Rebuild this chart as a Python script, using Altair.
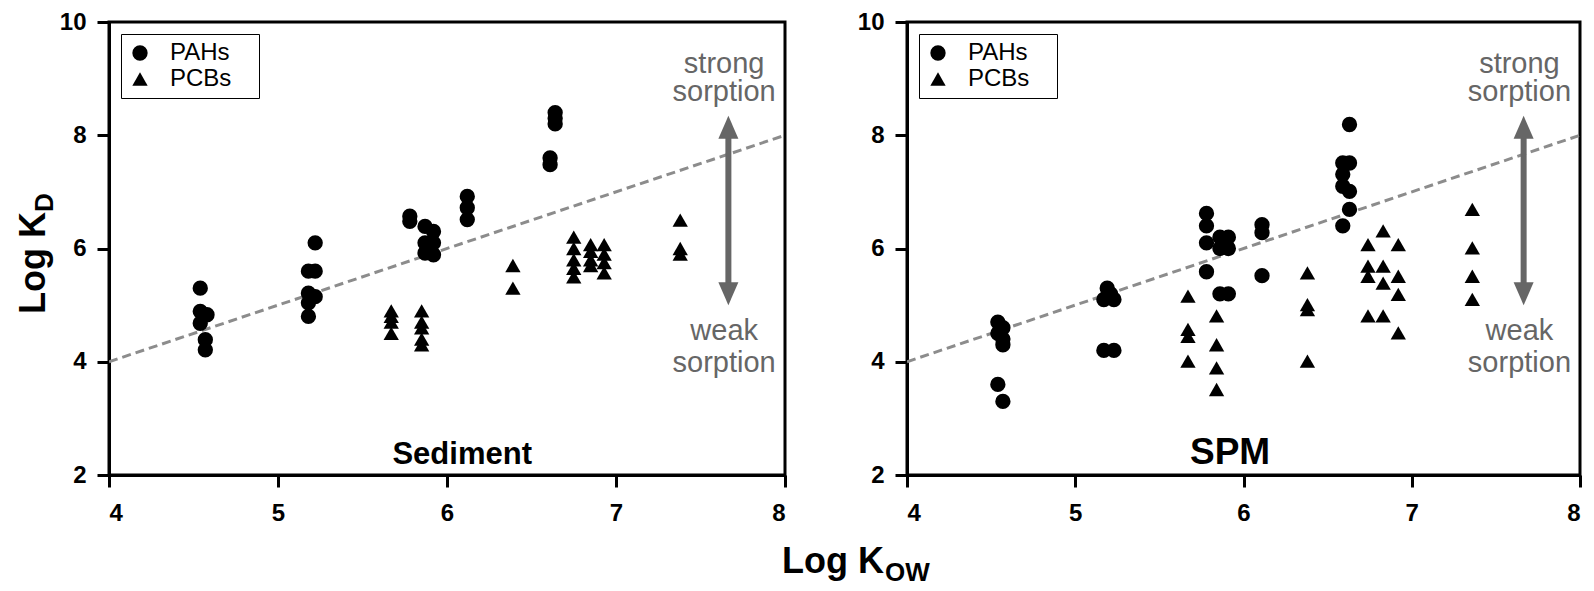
import altair as alt
import pandas as pd

FONT = "Liberation Sans"

# ---------------- data ----------------
x_ticks = [4, 5, 6, 7, 8]
y_ticks = [2, 4, 6, 8, 10]

# Sediment panel
sed_pah_kow = [4.54, 4.54, 4.58, 4.54, 4.57, 4.57,
               5.22, 5.18, 5.22, 5.18, 5.22, 5.18, 5.18,
               5.78, 5.78, 5.87, 5.92, 5.87, 5.92, 5.87, 5.92,
               6.12, 6.12, 6.12,
               6.64, 6.64, 6.64, 6.61, 6.61]
sed_pah_kd = [5.30, 4.89, 4.83, 4.68, 4.39, 4.21,
              6.10, 5.60, 5.60, 5.21, 5.15, 5.04, 4.80,
              6.57, 6.48, 6.39, 6.30, 6.10, 6.10, 5.92, 5.89,
              6.92, 6.72, 6.51,
              8.40, 8.30, 8.20, 7.60, 7.48]
sed_pcb_kow = [5.67, 5.67, 5.67, 5.67,
               5.85, 5.85, 5.85, 5.85, 5.85,
               6.39, 6.39,
               6.75, 6.75, 6.75, 6.75, 6.75,
               6.85, 6.85, 6.85, 6.85,
               6.93, 6.93, 6.93, 6.93,
               7.38, 7.38, 7.38]
sed_pcb_kd = [4.90, 4.80, 4.70, 4.50,
              4.90, 4.70, 4.60, 4.40, 4.30,
              5.70, 5.30,
              6.20, 6.00, 5.80, 5.65, 5.50,
              6.07, 5.95, 5.80, 5.70,
              6.07, 5.90, 5.75, 5.57,
              6.50, 6.00, 5.90]

# SPM panel
spm_pah_kow = [4.54, 4.57, 4.54, 4.57, 4.57, 4.54, 4.57,
               5.19, 5.21, 5.19, 5.23, 5.17, 5.17, 5.23,
               5.78, 5.78, 5.78, 5.78, 5.86, 5.86, 5.86, 5.91, 5.91, 5.91,
               6.11, 6.11, 6.11,
               6.63, 6.63, 6.63, 6.63, 6.59, 6.59, 6.59, 6.59]
spm_pah_kd = [4.70, 4.60, 4.50, 4.40, 4.30, 3.60, 3.30,
              5.30, 5.20, 5.15, 5.10, 5.10, 4.20, 4.20,
              6.62, 6.40, 6.10, 5.59, 6.20, 6.00, 5.20, 6.20, 6.00, 5.20,
              6.42, 6.28, 5.52,
              8.19, 7.51, 7.01, 6.69, 7.51, 7.31, 7.10, 6.40]
spm_pcb_kow = [5.67, 5.67, 5.67, 5.67,
               5.84, 5.84, 5.84, 5.84,
               6.38, 6.38, 6.38, 6.38,
               6.74, 6.74, 6.74, 6.74,
               6.83, 6.83, 6.83, 6.83,
               6.92, 6.92, 6.92, 6.92,
               7.36, 7.36, 7.36, 7.36]
spm_pcb_kd = [5.16, 4.57, 4.45, 4.01,
              4.81, 4.30, 3.89, 3.51,
              5.57, 5.01, 4.92, 4.01,
              6.07, 5.69, 5.51, 4.81,
              6.31, 5.69, 5.39, 4.81,
              6.07, 5.51, 5.19, 4.51,
              6.69, 6.01, 5.51, 5.10]

# 1:1 reference line
line_kow = [4, 8]
line_kd = [4, 8]

# arrow and its labels
arrow_kow = 7.665
arrow_kd = [8.14, 5.20]
ann_text = ["strong", "sorption", "weak", "sorption"]
ann_kow = [7.64, 7.64, 7.64, 7.64]
ann_kd = [9.10, 8.61, 4.39, 3.82]

panel_names = ["Sediment", "SPM"]
panel_name_kow = [6.09, 5.92]
panel_name_kd = 2.19
panel_name_size = [31, 37]

# ---------------- chart ----------------
xs = alt.Scale(domain=[4, 8], nice=False, zero=False)
ys = alt.Scale(domain=[2, 10], nice=False, zero=False)
X = alt.X("kow:Q", scale=xs, axis=alt.Axis(values=x_ticks, title=None, format="d"))
Y = alt.Y("kd:Q", scale=ys, axis=alt.Axis(values=y_ticks, title=None, format="d"))

WIDTHS = [676, 673]
H = 453
UP = "M-0.87,1L0.87,1L0,-1Z"
DOWN = "M-0.87,-1L0.87,-1L0,1Z"
PAD = "\u00a0" * 3 + "\u200b"


def panel(pah_x, pah_y, pcb_x, pcb_y, idx):
    df = pd.DataFrame({
        "kow": pah_x + pcb_x,
        "kd": pah_y + pcb_y,
        "group": ["PAHs"] * len(pah_x) + ["PCBs"] * len(pcb_x),
    })
    line = alt.Chart(pd.DataFrame({"kow": line_kow, "kd": line_kd})).mark_line(
        color="#8c8c8c", strokeWidth=3, strokeDash=[9, 5], clip=True
    ).encode(x=X, y=Y)

    pts = alt.Chart(df).mark_point(filled=True, color="black", opacity=1, size=235).encode(
        x=X, y=Y,
        shape=alt.Shape(
            "group:N",
            scale=alt.Scale(domain=["PAHs", "PCBs"], range=["circle", "triangle-up"]),
            legend=alt.Legend(
                title=None, orient="top-left", offset=12, strokeColor="black",
                padding=7, labelFont=FONT, labelFontSize=24, labelColor="black",
                labelOffset=18, rowPadding=2, symbolSize=235,
                symbolFillColor="black", symbolStrokeColor="black",
                symbolStrokeWidth=0, symbolOpacity=1,
                labelExpr="datum.label + '" + PAD + "'",
            ),
        ),
    )

    arrow_df = pd.DataFrame({"kow": [arrow_kow], "kd": [arrow_kd[0]], "kd2": [arrow_kd[1]]})
    shaft = alt.Chart(arrow_df).mark_rule(color="#666666", strokeWidth=6).encode(
        x=X, y=Y, y2="kd2:Q"
    )
    head_up = alt.Chart(pd.DataFrame({"kow": [arrow_kow], "kd": [arrow_kd[0]]})).mark_point(
        shape=UP, filled=True, color="#666666", opacity=1, size=529
    ).encode(x=X, y=Y)
    head_dn = alt.Chart(pd.DataFrame({"kow": [arrow_kow], "kd": [arrow_kd[1]]})).mark_point(
        shape=DOWN, filled=True, color="#666666", opacity=1, size=529
    ).encode(x=X, y=Y)

    ann = alt.Chart(pd.DataFrame({"kow": ann_kow, "kd": ann_kd, "t": ann_text})).mark_text(
        font=FONT, fontSize=29, color="#666666", align="center", baseline="alphabetic"
    ).encode(x=X, y=Y, text="t:N")

    name = alt.Chart(pd.DataFrame({"kow": [panel_name_kow[idx]], "kd": [panel_name_kd],
                                   "t": [panel_names[idx]]})).mark_text(
        font=FONT, fontSize=panel_name_size[idx], fontWeight="bold", color="black",
        align="center", baseline="alphabetic"
    ).encode(x=X, y=Y, text="t:N")

    layers = [line, shaft, head_up, head_dn, ann, name, pts]

    if idx == 0:
        # invisible anchor keeping the plot's left edge in place
        anchor = alt.Chart(pd.DataFrame({"t": ["a"]})).mark_rule(opacity=0).encode(
            x=alt.value(-99), y=alt.value(200), y2=alt.value(210)
        )
        t = pd.DataFrame({"t": ["Log K"]})
        s = pd.DataFrame({"t": ["D"]})
        ytitle = alt.Chart(t).mark_text(
            font=FONT, fontSize=36, fontWeight="bold", color="black",
            angle=270, align="left", baseline="alphabetic"
        ).encode(x=alt.value(-64), y=alt.value(292), text="t:N")
        ysub = alt.Chart(s).mark_text(
            font=FONT, fontSize=26, fontWeight="bold", color="black",
            angle=270, align="left", baseline="alphabetic"
        ).encode(x=alt.value(-56), y=alt.value(190), text="t:N")
        xt = pd.DataFrame({"t": ["Log K"]})
        xs_ = pd.DataFrame({"t": ["OW"]})
        xtitle = alt.Chart(xt).mark_text(
            font=FONT, fontSize=36, fontWeight="bold", color="black",
            align="left", baseline="alphabetic"
        ).encode(x=alt.value(673), y=alt.value(551), text="t:N")
        xsub = alt.Chart(xs_).mark_text(
            font=FONT, fontSize=26, fontWeight="bold", color="black",
            align="left", baseline="alphabetic"
        ).encode(x=alt.value(776), y=alt.value(559), text="t:N")
        layers += [anchor, ytitle, ysub, xtitle, xsub]

    return alt.layer(*layers).properties(width=WIDTHS[idx], height=H)


left = panel(sed_pah_kow, sed_pah_kd, sed_pcb_kow, sed_pcb_kd, 0)
right = panel(spm_pah_kow, spm_pah_kd, spm_pcb_kow, spm_pcb_kd, 1)

chart = alt.hconcat(left, right, spacing=122, bounds="flush").resolve_scale(
    shape="independent"
).resolve_legend(
    shape="independent"
).properties(
    padding=0, background="white"
).configure_view(
    stroke="black", strokeWidth=3
).configure_axis(
    grid=False, domainColor="black", domainWidth=3, tickColor="black",
    tickWidth=3, tickSize=12, labelFont=FONT, labelFontWeight="bold",
    labelFontSize=24, labelColor="black"
).configure_axisX(
    labelPadding=14
).configure_axisY(
    labelPadding=11
)

chart.save("out.html", embed_options={"renderer": "svg", "actions": False})
